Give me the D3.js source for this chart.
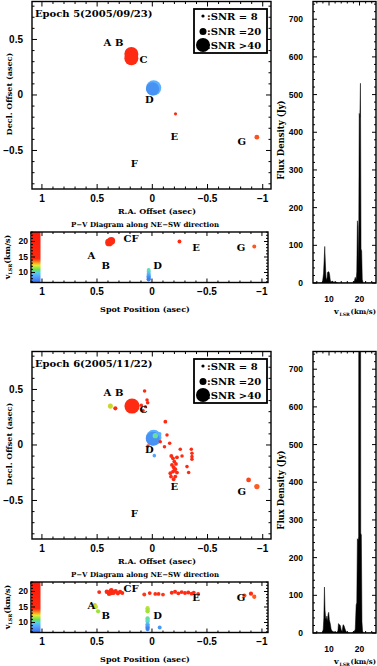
<!DOCTYPE html>
<html>
<head>
<meta charset="utf-8">
<script src="https://cdn.jsdelivr.net/npm/d3@7"></script>
<style>
  body { margin: 0; background: #fff; }
  svg { display: block; }
  .num { font-family: "Liberation Sans", Arial, sans-serif; font-weight: bold; fill: #000; }
  .lab { font-family: "DejaVu Serif", serif; font-weight: bold; fill: #000; }
</style>
</head>
<body>
<script>
// ---- data ----
const epochNames = ["Epoch 5(2005/09/23)", "Epoch 6(2005/11/22)"];

// spot maps: R.A. offset, Decl. offset (asec), v_LSR (km/s), SNR
const e5Ra  = [0.19, 0.19, -0.012, -0.002, -0.21, -0.947];
const e5Dec = [0.37, 0.33, 0.064, 0.055, -0.17, -0.38];
const e5Vel = [20.0, 20.0, 9.2, 8.3, 20.0, 18.5];
const e5Snr = [40, 40, 46, 38, 8, 13];

const e6Ra  = [0.184, 0.38, 0.335, 0.07, 0.048, 0.042, 0.10, 0.084, 0.063,
  -0.012, -0.004, -0.027, -0.066, 0.039, -0.018,
  -0.118, -0.133, -0.072, -0.11, -0.157, -0.253, -0.269, -0.353, -0.359, -0.359, -0.359, -0.314, -0.329,
  -0.172, -0.187, -0.199, -0.178, -0.193, -0.208, -0.187, -0.163, -0.223, -0.169, -0.208, -0.223, -0.214, -0.199, -0.193,
  -0.872, -0.947];
const e6Dec = [0.351, 0.35, 0.33, 0.486, 0.405, 0.381, 0.357, 0.309, 0.345,
  0.066, 0.056, 0.084, 0.099, -0.009, -0.096,
  0.21, 0.09, 0.03, -0.015, 0.015, -0.039, -0.099, -0.039, -0.075, -0.105, -0.129, -0.195, -0.249,
  -0.099, -0.12, -0.15, -0.18, -0.201, -0.219, -0.24, -0.255, -0.249, -0.285, -0.285, -0.111, -0.171, -0.231, -0.309,
  -0.315, -0.375];
const e6Vel = [20.0, 15.3, 19.8, 20, 20, 20, 20, 20, 20,
  9.2, 8.3, 11.0, 9.2, 19.5, 8.8,
  19.8, 19.8, 19.5, 19.5, 19.5, 19.8, 19.8, 19.8, 19.8, 19.8, 19.8, 19.8, 19.8,
  19.8, 19.8, 19.8, 19.8, 19.8, 19.8, 19.8, 19.8, 19.8, 19.8, 19.8, 19.8, 19.8, 19.8, 19.8,
  18.8, 18.3];
const e6Snr = [46, 14, 11, 9, 9, 9, 9, 9, 8,
  48, 40, 15, 10, 9, 9,
  10, 9, 9, 9, 9, 9, 9, 9, 9, 9, 9, 9, 9,
  10, 10, 10, 10, 10, 10, 10, 10, 10, 10, 10, 10, 10, 10, 10,
  13, 15];

// P-V diagrams: spot position (asec), v_LSR (km/s), SNR
const pv5Pos = [0.39, 0.37, -0.25, -0.93, 0.03, 0.03, 0.03, 0.03, 0.03, 0.03, 0.03];
const pv5Vel = [19.7, 20.2, 20.0, 18.4, 10.8, 10.3, 9.8, 9.3, 8.8, 8.3, 7.8];
const pv5Snr = [40, 40, 10, 10, 10, 10, 10, 11, 12, 12, 12];

const pv6Pos = [0.37, 0.48, 0.41, 0.39, 0.37, 0.35, 0.33, 0.31, 0.29, 0.27,
  0.07, 0.02, -0.03, -0.06, -0.10,
  -0.18, -0.21, -0.24, -0.27, -0.30, -0.33, -0.36, -0.38, -0.42,
  -0.84, -0.90, -0.93,
  0.52, 0.51, 0.49,
  0.04, 0.04, 0.04, 0.04, 0.04, 0.04, 0.04, 0.04, 0.04, 0.04, -0.07];
const pv6Vel = [19.8, 19.8, 19.9, 19.3, 20.4, 19.6, 20.1, 19.4, 19.9, 19.5,
  19.0, 19.5, 19.2, 19.2, 19.0,
  19.6, 19.9, 19.4, 19.8, 19.5, 19.7, 19.3, 19.6, 19.2,
  18.7, 19.3, 18.3,
  15.6, 15.0, 13.6,
  14.6, 14.1, 13.6, 11.3, 10.8, 10.3, 9.4, 8.9, 8.4, 7.9, 8.4];
const pv6Snr = [24, 10, 14, 14, 14, 14, 12, 12, 12, 10,
  10, 9, 9, 9, 9,
  10, 10, 10, 10, 10, 10, 10, 10, 10,
  12, 12, 12,
  12, 12, 12,
  12, 12, 12, 12, 12, 12, 12, 12, 12, 12, 10];

// total-power spectra: v_LSR (km/s), flux density (Jy)
const sp5Vel = [5.0, 7.6, 7.9, 8.2, 8.4, 8.6, 8.8, 9.0, 9.3, 9.5, 9.7, 10.0, 10.2, 10.4, 10.6, 10.9, 11.2, 11.5, 11.8,
  12.2, 12.6, 13.0, 18.0, 18.3, 18.6, 18.9, 19.1, 19.3, 19.5, 19.7, 19.9, 20.1, 20.3, 20.5, 20.7, 20.9, 21.2, 25.5];
const sp5Flux = [0, 0, 5, 25, 60, 97, 55, 15, 8, 28, 30, 29, 22, 8, 3, 4, 5, 2, 1,
  3, 1, 0, 0, 5, 15, 8, 30, 165, 150, 40, 450, 440, 530, 90, 85, 10, 0, 0];
const sp6Vel = [5.0, 7.8, 8.1, 8.3, 8.5, 8.7, 8.9, 9.1, 9.3, 9.5, 9.7, 9.9, 10.1, 10.4, 10.7, 11.0, 11.5, 12.0, 12.5,
  12.9, 13.1, 13.4, 13.7, 14.0, 14.3, 14.6, 14.9, 15.2, 15.5, 15.8, 16.2, 16.8, 17.5, 18.2, 18.6, 18.9, 19.1, 19.3,
  19.5, 19.7, 19.8, 20.3, 20.4, 20.6, 20.8, 21.0, 21.3, 25.5];
const sp6Flux = [0, 0, 10, 40, 122, 60, 40, 35, 45, 30, 50, 55, 35, 25, 10, 5, 3, 2, 2,
  5, 25, 22, 20, 8, 4, 22, 20, 12, 5, 2, 1, 0, 0, 3, 10, 75, 80, 250,
  245, 255, 1500, 1500, 265, 260, 30, 5, 0, 0];

// labels and ticks
const mapLetters = ["A", "B", "C", "D", "E", "F", "G"];
const mapLetRa   = [0.407, 0.30, 0.08, 0.027, -0.20, 0.163, -0.81];
const mapLetDec  = [0.477, 0.477, 0.324, -0.045, -0.378, -0.62, -0.42];
const pvLetters = ["CF", "E", "G", "A", "B", "D"];
const pvLetPos  = [0.19, -0.40, -0.81, 0.55, 0.42, -0.05];
const pvLetVel  = [21.1, 18.2, 17.9, 15.6, 12.2, 12.2];
const mapXTicks = [1, 0.5, 0, -0.5, -1];
const mapYTicks = [0.5, 0, -0.5];
const pvXTicks = [1, 0.5, 0, -0.5, -1];
const pvYTicks = [20, 15, 10];
const spXTicks = [10, 20];
const spYTicks = [0, 100, 200, 300, 400, 500, 600, 700];
const legendSnr = [8, 20, 40];
const legendText = [":SNR = 8", ":SNR =20", ":SNR >40"];

// ---- scales ----
const mapX = d3.scaleLinear().domain([1.09, -1.075]).range([32, 271]);
const mapY = d3.scaleLinear().domain([-0.847, 0.842]).range([189, 1.5]);
const pvX = d3.scaleLinear().domain([1.1, -1.055]).range([31, 268]);
const pvY = d3.scaleLinear().domain([6.77, 23.06]).range([282.5, 232]);
const spX = d3.scaleLinear().domain([4.75, 25.4]).range([313, 376]);
const spY = d3.scaleLinear().domain([0, 747]).range([283, 1.5]);

const mapR = d3.scaleLinear().domain([8, 20, 40, 50]).range([1.6, 3.5, 7, 8]).clamp(true);
const pvR = d3.scaleLinear().domain([8, 20, 45]).range([1.8, 2.8, 4.2]).clamp(true);
const velColor = d3.scaleLinear()
  .domain([7.8, 9.2, 10.5, 12, 15, 18, 19.3])
  .range(["#3c82ec", "#5cb0ff", "#5ee0c4", "#76e04a", "#c4e42c", "#ff6a26", "#ff2a12"])
  .clamp(true);

const fmt = v => (v < 0 ? "\u2212" : "") + Math.abs(v);

const svg = d3.select("body").append("svg").attr("width", 377).attr("height", 666);

// colour bar gradient
const grad = svg.append("defs").append("linearGradient")
  .attr("id", "cbar").attr("x1", 0).attr("y1", 0).attr("x2", 0).attr("y2", 1);
[[0, "#ff1a0a"], [0.53, "#ff2a10"], [0.6, "#ff9020"], [0.66, "#e8ec30"], [0.74, "#70e050"],
 [0.8, "#50d8e0"], [0.87, "#5aa8ff"], [1, "#3a6ff0"]].forEach(s =>
  grad.append("stop").attr("offset", s[0]).attr("stop-color", s[1]));

function minorVals(scale, step) {
  const [a, b] = d3.extent(scale.domain());
  return d3.range(Math.ceil(a / step - 1e-9), Math.floor(b / step + 1e-9) + 1).map(i => i * step);
}

// frame with inward ticks on all four sides
function frame(g, x, y, xs, ys, big, small) {
  const [xa, xb] = x.range(), [yb, yt] = y.range();
  const isMaj = (v, m) => Math.abs(v / m - Math.round(v / m)) < 1e-6;
  const segs = [];
  minorVals(x, xs[1]).forEach(v => {
    const L = isMaj(v, xs[0]) ? big : small, px = x(v);
    segs.push([px, yb, px, yb - L], [px, yt, px, yt + L]);
  });
  minorVals(y, ys[1]).forEach(v => {
    const L = isMaj(v, ys[0]) ? big : small, py = y(v);
    segs.push([xa, py, xa + L, py], [xb, py, xb - L, py]);
  });
  g.append("g").selectAll("line").data(segs).join("line")
    .attr("x1", d => d[0]).attr("y1", d => d[1]).attr("x2", d => d[2]).attr("y2", d => d[3])
    .attr("stroke", "#000").attr("stroke-width", 1);
  g.append("rect").attr("x", xa).attr("y", yt).attr("width", xb - xa).attr("height", yb - yt)
    .attr("fill", "none").attr("stroke", "#000").attr("stroke-width", 1.4);
}

function spots(g, xs, ys, vs, ss, x, y, r) {
  g.append("g").selectAll("circle").data(xs.map((d, i) => i)).join("circle")
    .attr("cx", i => x(xs[i])).attr("cy", i => y(ys[i]))
    .attr("r", i => r(ss[i])).attr("fill", i => velColor(vs[i]));
}

function vlsr(sel, size) {
  sel.append("tspan").text("v");
  sel.append("tspan").attr("font-size", size * 0.6).attr("dy", 2).text("LSR");
  sel.append("tspan").attr("dy", -2).text("(km/s)");
}

const maps = [[e5Ra, e5Dec, e5Vel, e5Snr], [e6Ra, e6Dec, e6Vel, e6Snr]];
const pvs = [[pv5Pos, pv5Vel, pv5Snr], [pv6Pos, pv6Vel, pv6Snr]];
const specs = [[sp5Vel, sp5Flux], [sp6Vel, sp6Flux]];

[0, 1].forEach(e => {
  const g = svg.append("g").attr("transform", `translate(0,${e * 350})`);

  // ---- spot map ----
  const gm = g.append("g");
  const m = maps[e];
  spots(gm, m[0], m[1], m[2], m[3], mapX, mapY, mapR);
  frame(gm, mapX, mapY, [0.5, 0.1], [0.5, 0.1], 5, 2.5);
  gm.append("g").selectAll("text").data(mapLetters).join("text").attr("class", "lab")
    .attr("font-size", 10).attr("text-anchor", "middle").attr("dominant-baseline", "central")
    .attr("x", (d, i) => mapX(mapLetRa[i])).attr("y", (d, i) => mapY(mapLetDec[i])).text(d => d);
  gm.append("text").attr("class", "lab").attr("font-size", 10).attr("x", 35).attr("y", 17)
    .text(epochNames[e]);
  gm.append("g").selectAll("text").data(mapYTicks).join("text").attr("class", "num")
    .attr("font-size", 10).attr("text-anchor", "end").attr("dominant-baseline", "central")
    .attr("x", 23).attr("y", d => mapY(d)).text(fmt);
  gm.append("g").selectAll("text").data(mapXTicks).join("text").attr("class", "num")
    .attr("font-size", 10).attr("text-anchor", "middle")
    .attr("x", d => mapX(d)).attr("y", 202).text(fmt);
  gm.append("text").attr("class", "lab").attr("font-size", 8).attr("text-anchor", "middle")
    .attr("x", 157).attr("y", 214).text("R.A. Offset (asec)");
  gm.append("text").attr("class", "lab").attr("font-size", 8).attr("text-anchor", "middle")
    .attr("transform", "translate(12,94) rotate(-90)").text("Decl. Offset (asec)");

  // legend
  const lg = gm.append("g");
  lg.append("rect").attr("x", 194).attr("y", 9).attr("width", 73).attr("height", 44)
    .attr("fill", "#fff").attr("stroke", "#000").attr("stroke-width", 1.8);
  const ly = [16, 31.5, 45];
  lg.selectAll("circle").data(legendSnr).join("circle")
    .attr("cx", 203).attr("cy", (d, i) => ly[i]).attr("r", d => mapR(d)).attr("fill", "#000");
  lg.selectAll("text").data(legendText).join("text").attr("class", "lab")
    .attr("font-size", 10).attr("x", 207).attr("y", (d, i) => ly[i] + 3.5).text(d => d);

  // ---- P-V diagram ----
  const gp = g.append("g");
  const [pa, pb] = pvX.range(), [pyb, pyt] = pvY.range();
  gp.append("rect").attr("x", pa + 1).attr("y", pyt).attr("width", 8.5).attr("height", pyb - pyt)
    .attr("fill", "url(#cbar)");
  const p = pvs[e];
  spots(gp, p[0], p[1], p[1], p[2], pvX, pvY, pvR);
  frame(gp, pvX, pvY, [0.5, 0.1], [5, 1], 4, 2);
  gp.append("g").selectAll("text").data(pvLetters).join("text").attr("class", "lab")
    .attr("font-size", 10).attr("text-anchor", "middle").attr("dominant-baseline", "central")
    .attr("x", (d, i) => pvX(pvLetPos[i])).attr("y", (d, i) => pvY(pvLetVel[i])).text(d => d);
  gp.append("text").attr("class", "lab").attr("font-size", 7).attr("text-anchor", "middle")
    .attr("x", 145).attr("y", 227).text("P\u2212V Diagram along NE\u2212SW direction");
  gp.append("g").selectAll("text").data(pvYTicks).join("text").attr("class", "num")
    .attr("font-size", 8.5).attr("text-anchor", "end").attr("dominant-baseline", "central")
    .attr("x", 28).attr("y", d => pvY(d)).text(fmt);
  gp.append("g").selectAll("text").data(pvXTicks).join("text").attr("class", "num")
    .attr("font-size", 10).attr("text-anchor", "middle")
    .attr("x", d => pvX(d)).attr("y", 295).text(fmt);
  gp.append("text").attr("class", "lab").attr("font-size", 8).attr("text-anchor", "middle")
    .attr("x", 145).attr("y", 312).text("Spot Position (asec)");
  gp.append("text").attr("class", "lab").attr("font-size", 8).attr("text-anchor", "middle")
    .attr("transform", "translate(10,257) rotate(-90)").call(vlsr, 8);

  // ---- spectrum ----
  const gs = g.append("g");
  const [sa, sb] = spX.range(), [syb, syt] = spY.range();
  gs.append("clipPath").attr("id", "clipSp" + e).append("rect")
    .attr("x", sa).attr("y", syt).attr("width", sb - sa).attr("height", syb - syt);
  const s = specs[e];
  const area = d3.area().x(i => spX(s[0][i])).y0(spY(0)).y1(i => spY(s[1][i]));
  gs.append("path").datum(s[0].map((d, i) => i)).attr("d", area)
    .attr("fill", "#000").attr("stroke", "#000").attr("stroke-width", 0.5)
    .attr("clip-path", `url(#clipSp${e})`);
  frame(gs, spX, spY, [10, 2], [100, 20], 4, 2);
  gs.append("g").selectAll("text").data(spYTicks).join("text").attr("class", "num")
    .attr("font-size", 8.5).attr("text-anchor", "end").attr("dominant-baseline", "central")
    .attr("x", 303).attr("y", d => spY(d)).text(fmt);
  gs.append("g").selectAll("text").data(spXTicks).join("text").attr("class", "num")
    .attr("font-size", 8.5).attr("text-anchor", "middle")
    .attr("x", d => spX(d)).attr("y", 302).text(fmt);
  gs.append("text").attr("class", "lab").attr("font-size", 8.5).attr("text-anchor", "middle")
    .attr("transform", "translate(284,140) rotate(-90)").text("Flux Density (Jy)");
  // x label split in pieces so it fits inside the right edge
  gs.append("text").attr("class", "lab").attr("font-size", 8).attr("x", 334).attr("y", 314).text("v");
  gs.append("text").attr("class", "lab").attr("font-size", 4.5).attr("x", 339.5).attr("y", 316).text("LSR");
  gs.append("text").attr("class", "lab").attr("font-size", 7).attr("text-anchor", "end")
    .attr("x", 376).attr("y", 314).text("(km/s)");
});
</script>
</body>
</html>
